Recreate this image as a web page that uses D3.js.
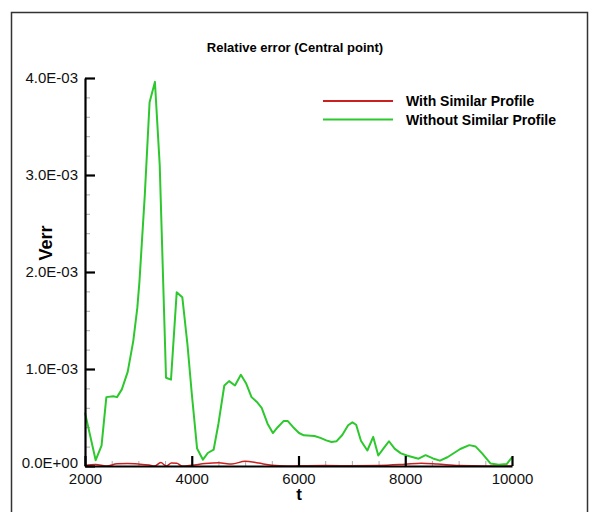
<!DOCTYPE html>
<html>
<head>
<meta charset="utf-8">
<script src="https://cdn.jsdelivr.net/npm/d3@7"></script>
<style>
  body { margin: 0; background: #fff; }
  svg text { font-family: "Liberation Sans", Arial, Helvetica, sans-serif; }
</style>
</head>
<body>
<div id="chart"></div>
<script>
// data (t, Verr)
const tWithout = [2000, 2200, 2310, 2400, 2530, 2600, 2690, 2800, 2905, 2980, 3020, 3120, 3210, 3310, 3400,
    3518, 3611, 3718, 3823, 3920, 4000, 4100, 4210, 4300, 4410, 4500, 4610, 4700, 4810, 4920, 5020, 5120, 5220,
    5310, 5420, 5520, 5610, 5720, 5800, 5900, 6010, 6100, 6300, 6410, 6520, 6620, 6710, 6820, 6930, 7010, 7080,
    7170, 7290, 7400, 7495, 7600, 7695, 7805, 7920, 8030, 8180, 8250, 8380, 8520, 8650, 8790, 9030, 9200, 9320,
    9440, 9600, 9750, 9900, 10000];
const verrWithout = [0.55e-3, 0.06e-3, 0.21e-3, 0.71e-3, 0.72e-3, 0.71e-3, 0.79e-3, 0.97e-3, 1.29e-3, 1.63e-3,
    1.90e-3, 2.79e-3, 3.75e-3, 3.96e-3, 3.10e-3, 0.91e-3, 0.89e-3, 1.79e-3, 1.74e-3, 1.25e-3, 0.75e-3, 0.18e-3,
    0.065e-3, 0.134e-3, 0.168e-3, 0.436e-3, 0.83e-3, 0.875e-3, 0.83e-3, 0.94e-3, 0.85e-3, 0.71e-3, 0.66e-3,
    0.60e-3, 0.436e-3, 0.34e-3, 0.40e-3, 0.463e-3, 0.463e-3, 0.40e-3, 0.34e-3, 0.316e-3, 0.31e-3, 0.29e-3,
    0.264e-3, 0.247e-3, 0.254e-3, 0.32e-3, 0.42e-3, 0.45e-3, 0.425e-3, 0.26e-3, 0.16e-3, 0.30e-3, 0.108e-3,
    0.186e-3, 0.255e-3, 0.176e-3, 0.13e-3, 0.108e-3, 0.085e-3, 0.075e-3, 0.112e-3, 0.078e-3, 0.055e-3, 0.09e-3,
    0.175e-3, 0.215e-3, 0.20e-3, 0.13e-3, 0.025e-3, 0.012e-3, 0.02e-3, 0.09e-3];

const tWith = [2000, 2200, 2400, 2600, 2800, 3000, 3200, 3300, 3420, 3520, 3620, 3720, 3820, 4000, 4250, 4500,
    4750, 5000, 5250, 5500, 5800, 6000, 6500, 7000, 7500, 8000, 8300, 8600, 9000, 9500, 10000];
const verrWith = [0.005e-3, 0.015e-3, 0.0, 0.022e-3, 0.025e-3, 0.02e-3, 0.01e-3, 0.0, 0.035e-3, 0.0, 0.03e-3,
    0.028e-3, 0.0, 0.008e-3, 0.025e-3, 0.033e-3, 0.02e-3, 0.05e-3, 0.03e-3, 0.008e-3, 0.0, 0.002e-3, 0.005e-3,
    0.003e-3, 0.005e-3, 0.018e-3, 0.028e-3, 0.02e-3, 0.005e-3, 0.0, 0.0];

const xTicks = [2000, 4000, 6000, 8000, 10000];
const xMinorTicks = d3.range(2500, 10000, 500).filter(d => d % 2000 !== 0);
const yTicks = [0, 1e-3, 2e-3, 3e-3, 4e-3];
const yMinorTicks = d3.range(1, 20).filter(d => d % 5 !== 0).map(d => d * 2e-4);

const seriesNames = ["With Similar Profile", "Without Similar Profile"];
const seriesColors = ["#cc2020", "#2dc82d"];

const width = 590, height = 512;
const margin = {top: 78, right: 78, bottom: 46, left: 85};

const svg = d3.select("#chart")
    .append("svg")
    .attr("width", width)
    .attr("height", height);

// outer frame
svg.append("rect")
    .attr("x", 11.5).attr("y", 12.5)
    .attr("width", 576).attr("height", 520)
    .attr("fill", "none")
    .attr("stroke", "#333")
    .attr("stroke-width", 1.5);

let x = d3.scaleLinear().domain([2000, 10000]).range([margin.left, width - margin.right]);
let y = d3.scaleLinear().domain([0, 4e-3]).range([height - margin.bottom, margin.top]);

// 4.0E-03 style labels
function sciFormat(v) {
    if (v === 0) return "0.0E+00";
    let e = Math.floor(Math.log10(Math.abs(v)) + 1e-9);
    let m = v / Math.pow(10, e);
    let sign = e < 0 ? "-" : "+";
    return m.toFixed(1) + "E" + sign + String(Math.abs(e)).padStart(2, "0");
}

// minor ticks
svg.append("g")
    .attr("transform", `translate(0,${y(0)})`)
    .call(d3.axisBottom(x).tickValues(xMinorTicks).tickSize(-5).tickFormat(""))
    .call(g => g.select(".domain").remove())
    .call(g => g.selectAll("line").attr("stroke", "#aaa").attr("stroke-width", 1));

svg.append("g")
    .attr("transform", `translate(${x(2000)},0)`)
    .call(d3.axisLeft(y).tickValues(yMinorTicks).tickSize(-5).tickFormat(""))
    .call(g => g.select(".domain").remove())
    .call(g => g.selectAll("line").attr("stroke", "#aaa").attr("stroke-width", 1));

// lines
let line = d3.line()
    .x(d => x(d[0]))
    .y(d => y(d[1]));

svg.append("path")
    .datum(d3.zip(tWith, verrWith))
    .attr("d", line.curve(d3.curveMonotoneX))
    .attr("fill", "none")
    .attr("stroke", seriesColors[0])
    .attr("stroke-width", 1.5);

svg.append("path")
    .datum(d3.zip(tWithout, verrWithout))
    .attr("d", line.curve(d3.curveLinear))
    .attr("fill", "none")
    .attr("stroke", seriesColors[1])
    .attr("stroke-width", 2)
    .attr("stroke-linejoin", "round");

// major axes
svg.append("g")
    .attr("transform", `translate(0,${y(0)})`)
    .call(d3.axisBottom(x).tickValues(xTicks).tickSize(-10).tickSizeOuter(0).tickPadding(7).tickFormat(d3.format("d")))
    .call(g => g.select(".domain").attr("stroke-width", 2.2))
    .call(g => g.selectAll(".tick line").attr("stroke-width", 2.2))
    .call(g => g.selectAll("text").attr("font-size", 15).attr("fill", "#111"));

svg.append("g")
    .attr("transform", `translate(${x(2000)},0)`)
    .call(d3.axisLeft(y).tickValues(yTicks).tickSize(-10).tickSizeOuter(0).tickPadding(7).tickFormat(sciFormat))
    .call(g => g.select(".domain").attr("stroke-width", 2.2))
    .call(g => g.selectAll(".tick line").attr("stroke-width", 2.2))
    .call(g => g.selectAll("text").attr("font-size", 15).attr("fill", "#111"));

// the zero label sits just above the first x label, as in the source
svg.selectAll("text").filter(function() { return this.textContent === "0.0E+00"; })
    .attr("dy", "0.1em");

// title and axis titles
svg.append("text")
    .attr("x", 295).attr("y", 52)
    .attr("text-anchor", "middle")
    .attr("font-size", 13)
    .attr("font-weight", "bold")
    .text("Relative error (Central point)");

svg.append("text")
    .attr("x", 299).attr("y", 500)
    .attr("text-anchor", "middle")
    .attr("font-size", 17)
    .attr("font-weight", "bold")
    .text("t");

svg.append("text")
    .attr("transform", "translate(52,243) rotate(-90)")
    .attr("text-anchor", "middle")
    .attr("font-size", 18)
    .attr("font-weight", "bold")
    .text("Verr");

// legend
let legend = svg.append("g")
    .selectAll("g")
    .data(seriesNames)
    .enter()
    .append("g")
    .attr("transform", (d, i) => `translate(323,${101 + i * 18.5})`);

legend.append("line")
    .attr("x1", 0).attr("x2", 70)
    .attr("stroke", (d, i) => seriesColors[i])
    .attr("stroke-width", 1.8);

legend.append("text")
    .attr("x", 83).attr("y", 5)
    .attr("font-size", 14)
    .attr("font-weight", "bold")
    .text(d => d);
</script>
</body>
</html>
